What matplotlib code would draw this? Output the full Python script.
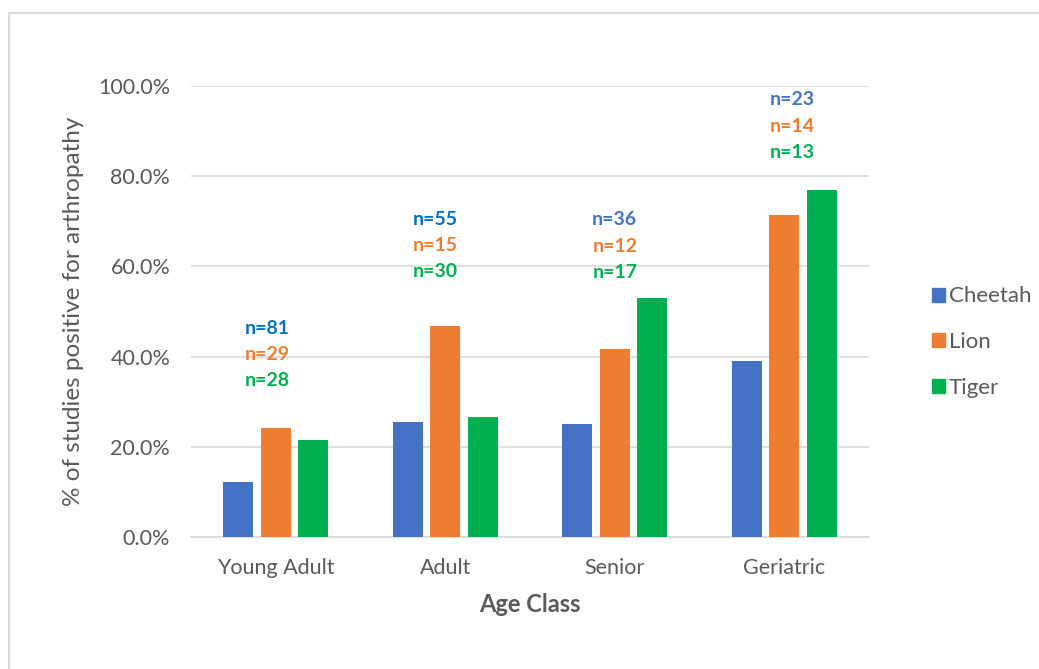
import matplotlib.pyplot as plt
import numpy as np
from matplotlib.patches import Rectangle, Patch

plt.rcParams['font.family'] = ['Lato', 'DejaVu Sans']

age_classes = ['Young Adult', 'Adult', 'Senior', 'Geriatric']
species = ['Cheetah', 'Lion', 'Tiger']
# fraction of studies positive for arthropathy
cheetah = [0.123, 0.255, 0.250, 0.391]
lion = [0.241, 0.467, 0.417, 0.714]
tiger = [0.214, 0.267, 0.529, 0.769]
# sample sizes per age class
n_cheetah = [81, 55, 36, 23]
n_lion = [29, 15, 12, 14]
n_tiger = [28, 30, 17, 13]

colors = ['#4472C4', '#ED7D31', '#00B050']
n_colors = [['#0070C0', '#ED7D31', '#00B050'],
            ['#0070C0', '#ED7D31', '#00B050'],
            ['#4472C4', '#ED7D31', '#00B050'],
            ['#4472C4', '#ED7D31', '#00B050']]
# where the n= text blocks sit (x offset from group centre, y of first line)
n_xoff = [-0.05, -0.06, 0.0, 0.05]
n_ytop = [0.463, 0.705, 0.703, 0.969]
n_step = 0.058

grey = '#595959'
grid = '#D9D9D9'

fig = plt.figure(figsize=(10.39, 6.69), dpi=100)
ax = fig.add_axes([191/1039, 1-537/669, 678/1039, 451/669])

x = np.arange(len(age_classes))
w = 0.177
step = 0.221
series = [cheetah, lion, tiger]
for i, (vals, c) in enumerate(zip(series, colors)):
    ax.bar(x + (i-1)*step, vals, width=w, color=c, label=species[i], zorder=3)

ns = [n_cheetah, n_lion, n_tiger]
for j in range(len(age_classes)):
    for i in range(3):
        ax.text(x[j] + n_xoff[j], n_ytop[j] - i*n_step, 'n=%d' % ns[i][j],
                color=n_colors[j][i], fontsize=14, fontweight='bold',
                ha='center', va='center', clip_on=False, zorder=4)

ax.set_xlim(-0.5, 3.5)
ax.set_ylim(0, 1.0)
ax.set_yticks(np.arange(0, 1.01, 0.2))
ax.set_yticklabels(['%.1f%%' % (v*100) for v in np.arange(0, 1.01, 0.2)])
ax.set_xticks(x)
ax.set_xticklabels(age_classes)
ax.yaxis.grid(True, color=grid, linewidth=1.2, zorder=0)
ax.set_axisbelow(True)
for s in ['top', 'right', 'left']:
    ax.spines[s].set_visible(False)
ax.spines['bottom'].set_color(grid)
ax.spines['bottom'].set_linewidth(1.2)
ax.tick_params(length=0, labelsize=15.5, labelcolor=grey)
ax.tick_params(axis='y', pad=15)
ax.tick_params(axis='x', pad=15)

ax.set_xlabel('Age Class', fontsize=17, fontweight='bold', color=grey, labelpad=11)
ax.set_ylabel('% of studies positive for arthropathy', fontsize=17.5, color=grey, labelpad=10)

handles = [Patch(color=c) for c in colors]
fig.legend(handles, species, loc='center left', bbox_to_anchor=(912/1039, 1-342/669),
           frameon=False, fontsize=16, labelcolor=grey, handlelength=0.6,
           handleheight=0.6, handletextpad=0.15, labelspacing=1.15)

# chart border
fig.patches.append(Rectangle((8.5/1039, -0.1), 1.2, 1 - 12.5/669 + 0.1,
                             transform=fig.transFigure, fill=False,
                             edgecolor=grid, linewidth=1.5))

fig.savefig('out.png', dpi=100)
